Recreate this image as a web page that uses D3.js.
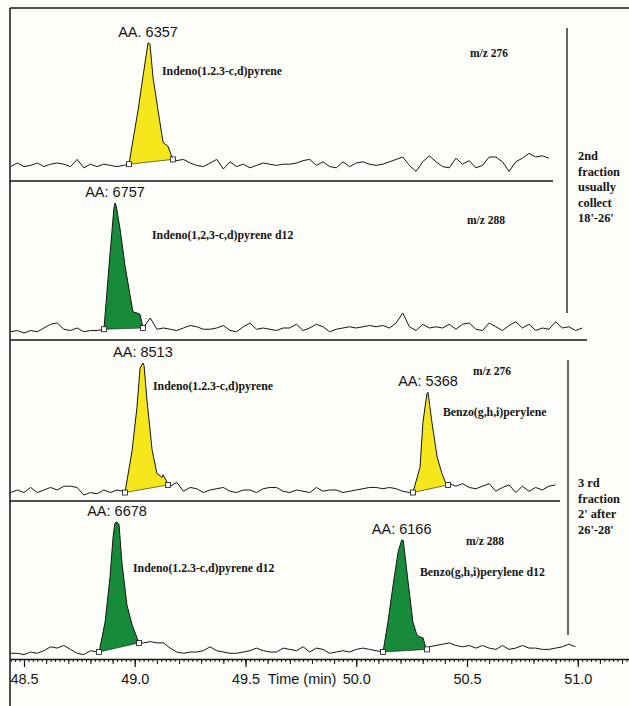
<!DOCTYPE html>
<html><head><meta charset="utf-8">
<script src="https://cdn.jsdelivr.net/npm/d3@7"></script>
<style>body{margin:0;background:#fdfdf9}svg{display:block}</style>
</head><body>
<svg id="chart" width="629" height="706"></svg>
<script>
// ---------- DATA ----------
const sampleStart = 48.44, sampleStep = 0.03;   // detector sampling clock (min)

// baseline noise per trace (relative abundance, null = under a peak)
const noiseP1 = [-3,0,-3,-2,0,-3,-1,0,-1,-3,3,-4,-1,-3,-1,-2,-3,-2,
  null,null,null,null,null,null,null,
  2,3,0,-2,-3,0,3,-5,1,-3,-1,-4,-2,0,-1,-2,-1,-1,0,2,3,-2,1,-3,-4,1,-3,0,1,-1,
  -2,-1,1,3,5,-2,-7,1,6,1,-3,-4,4,-1,2,-4,-2,5,5,1,-7,1,4,8,5,6,4];
const noiseP2 = [-3,-2,-4,-2,-3,0,3,4,-1,-2,0,-3,-2,-2,null,
  null,null,null,null,null,null,
  8,-1,0,-1,-2,0,2,1,-1,-1,0,2,-2,-3,1,4,-1,0,-1,-2,0,0,3,-2,0,3,
  1,-3,-1,0,1,0,1,2,1,2,0,4,12,1,-2,3,0,1,0,3,-1,3,4,-1,-2,4,1,-2,2,5,0,3,-2,0,-1,5,0,1,-2,0];
const noiseP3 = [-2,0,-2,2,-2,0,2,0,3,3,2,-4,-2,-3,0,-2,0,-1,
  null,null,null,null,null,null,
  3,6,-1,2,1,-2,0,1,2,-1,-2,0,0,-2,1,2,2,-1,-2,0,-1,-2,2,-1,0,0,-2,-1,0,1,2,2,1,2,1,-1,-2,
  null,null,null,null,null,
  5,3,5,2,1,3,5,-1,2,4,-2,3,-1,2,0,3,4];
const noiseP4 = [-1,-1,-2,0,-1,1,4,3,5,2,-1,-2,1,0,
  null,null,null,null,null,null,
  7,8,7,7,3,0,-1,0,0,1,4,1,0,-1,-1,0,1,3,1,0,0,3,2,1,4,0,3,2,-1,0,1,0,2,3,2,1,
  null,null,null,null,null,null,null,
  4,5,6,7,5,4,5,3,5,3,2,5,2,3,5,3,3,2,2,3,4,6,4];

// integrated peaks: [time (min), relative abundance]
const peakIndeno2nd    = [[48.974,-1],[48.992,19],[49.015,44],[49.037,72],[49.060,100],[49.069,99],[49.082,72],[49.105,44],[49.128,17],[49.150,14],[49.172,3]];
const peakIndenoD12nd  = [[48.861,-1],[48.884,50],[48.906,96],[48.911,100],[48.916,98],[48.933,80],[48.956,50],[48.979,26],[48.992,13],[49.010,12],[49.024,11],[49.037,0]];
const peakIndeno3rd    = [[48.956,-2],[48.988,31],[49.010,65],[49.024,96],[49.037,100],[49.042,98],[49.055,71],[49.078,32],[49.100,13],[49.123,10],[49.128,12],[49.146,6],[49.150,4]];
const peakBenzo3rd     = [[50.256,-2],[50.288,18],[50.301,53],[50.319,76],[50.324,77],[50.342,53],[50.365,26],[50.387,13],[50.405,5],[50.414,4]];
const peakIndenoD123rd = [[48.839,0],[48.866,23],[48.888,57],[48.902,88],[48.910,99],[48.920,100],[48.929,98],[48.942,69],[48.965,36],[48.988,21],[49.010,11],[49.019,7]];
const peakBenzoD123rd  = [[50.121,0],[50.143,23],[50.166,51],[50.189,77],[50.205,86],[50.212,86],[50.234,54],[50.256,23],[50.274,13],[50.288,11.5],[50.301,11],[50.315,3],[50.319,2]];

const areaLabels = ["AA. 6357","AA: 6757","AA: 8513","AA: 5368","AA: 6678","AA: 6166"];
const compoundNames = ["Indeno(1.2.3-c,d)pyrene","Indeno(1,2,3-c,d)pyrene d12","Indeno(1.2.3-c,d)pyrene",
  "Benzo(g,h,i)perylene","Indeno(1.2.3-c,d)pyrene d12","Benzo(g,h,i)perylene d12"];
const massLabels = ["m/z 276","m/z 288","m/z 276","m/z 288"];
const fraction2Lines = ["2nd","fraction","usually","collect","18'-26'"];
const fraction3Lines = ["3 rd","fraction","2' after","26'-28'"];
const tickValues = [48.5,49.0,49.5,50.0,50.5,51.0];
const tickLabels = ["48.5","49.0","49.5","50.0","50.5","51.0"];
const axisTitle = "Time (min)";

// ---------- LAYOUT ----------
const YELLOW = "#f6e71c", GREEN = "#188b3b", INK = "#151515";
const panels = [
  {base:163, full:43,  noise:noiseP1, peaks:[peakIndeno2nd],  color:YELLOW, areas:[0], names:[0], namePos:[[162,75]], mass:0, massPos:[470,57]},
  {base:328, full:203, noise:noiseP2, peaks:[peakIndenoD12nd], color:GREEN, areas:[1], names:[1], namePos:[[152,239]], mass:1, massPos:[467,224]},
  {base:490, full:363, noise:noiseP3, peaks:[peakIndeno3rd, peakBenzo3rd], color:YELLOW, areas:[2,3], names:[2,3], namePos:[[153,390],[443,416]], mass:2, massPos:[473,375]},
  {base:652, full:522, noise:noiseP4, peaks:[peakIndenoD123rd, peakBenzoD123rd], color:GREEN, areas:[4,5], names:[4,5], namePos:[[133,572],[420,576]], mass:3, massPos:[466,545]}
];

const svg = d3.select("#chart");
svg.append("rect").attr("width",629).attr("height",706).attr("fill","#fdfdf9");

const x = d3.scaleLinear().domain([48.4368, 51.2314]).range([10, 629]);

// frame
const frame = svg.append("g").attr("stroke", INK).attr("stroke-width", 1.5);
frame.append("line").attr("x1",10).attr("x2",629).attr("y1",8).attr("y2",8);
frame.append("line").attr("x1",10).attr("x2",10).attr("y1",8).attr("y2",706);
[[181,553],[340,587],[501,560]].forEach(([y,x2]) =>
  frame.append("line").attr("x1",10).attr("x2",x2).attr("y1",y).attr("y2",y));
frame.append("line").attr("x1",567).attr("x2",567).attr("y1",28).attr("y2",313).attr("stroke-width",1.3);
frame.append("line").attr("x1",568).attr("x2",568).attr("y1",360).attr("y2",635).attr("stroke-width",1.3);

const serif = "'Liberation Serif','Times New Roman',serif";
const sans = "'Liberation Sans',Arial,sans-serif";

panels.forEach(p => {
  const y = d3.scaleLinear().domain([0,100]).range([p.base, p.full]);
  const line = d3.line().x(d => x(d[0])).y(d => y(d[1]));
  const noisePts = p.noise.map((v,i) => v == null ? null : [sampleStart + i*sampleStep, v]).filter(Boolean);
  const trace = noisePts.concat(...p.peaks).sort((a,b) => a[0]-b[0]);
  const g = svg.append("g");
  p.peaks.forEach(pk => {
    g.append("path").attr("d", line(pk) + "Z").attr("fill", p.color).attr("stroke","none");
  });
  g.append("path").attr("d", line(trace)).attr("fill","none").attr("stroke",INK)
    .attr("stroke-width",1).attr("stroke-linejoin","miter");
  p.peaks.forEach((pk,j) => {
    // baseline of integration
    const a = pk[0], b = pk[pk.length-1];
    g.append("line").attr("x1",x(a[0])).attr("y1",y(a[1])).attr("x2",x(b[0])).attr("y2",y(b[1]))
      .attr("stroke",INK).attr("stroke-width",0.6);
    [a,b].forEach(m => g.append("rect").attr("x",x(m[0])-2.5).attr("y",y(m[1])-2.5)
      .attr("width",5).attr("height",5).attr("fill","#fff").attr("stroke",INK).attr("stroke-width",0.8));
    const apex = pk.reduce((m,d) => d[1] > m[1] ? d : m);
    g.append("text").attr("x", x(apex[0])).attr("y", y(apex[1]) - 6)
      .attr("text-anchor","middle").attr("font-family",sans).attr("font-size",14.5)
      .attr("fill",INK).text(areaLabels[p.areas[j]]);
    g.append("text").attr("x",p.namePos[j][0]).attr("y",p.namePos[j][1])
      .attr("font-family",serif).attr("font-weight","bold").attr("font-size",11.8)
      .attr("fill",INK).text(compoundNames[p.names[j]]);
  });
  g.append("text").attr("x",p.massPos[0]).attr("y",p.massPos[1])
    .attr("font-family",serif).attr("font-weight","bold").attr("font-size",11.5)
    .attr("fill",INK).text(massLabels[p.mass]);
});

// fraction notes
[[fraction2Lines,160],[fraction3Lines,487]].forEach(([lines,y0]) => {
  const t = svg.append("text").attr("font-family",serif).attr("font-weight","bold")
    .attr("font-size",12.4).attr("fill",INK);
  lines.forEach((s,i) => t.append("tspan").attr("x",578).attr("y",y0 + i*15.5).text(s));
});

// time axis
const axisY = 659;
const minor = d3.range(2422, 2562).map(i => i/50);
const medium = d3.range(485, 513).map(i => i/10);
svg.append("g").attr("transform",`translate(0,${axisY})`)
  .call(d3.axisBottom(x).tickValues(minor).tickSize(3).tickSizeOuter(0).tickFormat(""))
  .call(g => g.selectAll("line,path").attr("stroke",INK));
svg.append("g").attr("transform",`translate(0,${axisY})`)
  .call(d3.axisBottom(x).tickValues(medium).tickSize(5).tickSizeOuter(0).tickFormat(""))
  .call(g => g.select(".domain").remove())
  .call(g => g.selectAll("line").attr("stroke",INK));
const ax = svg.append("g").attr("transform",`translate(0,${axisY})`)
  .call(d3.axisBottom(x).tickValues(tickValues).tickSize(8).tickSizeOuter(0)
        .tickFormat((d,i) => tickLabels[i]))
  .call(g => g.select(".domain").attr("stroke",INK).attr("stroke-width",1.5));
ax.selectAll("line").attr("stroke",INK).attr("stroke-width",1.2);
ax.selectAll("text").attr("y",25).attr("dy",0).attr("font-family",sans)
  .attr("font-size",14.5).attr("fill",INK);
svg.append("text").attr("x",302).attr("y",axisY+25).attr("text-anchor","middle")
  .attr("font-family",sans).attr("font-size",14.5).attr("fill",INK).text(axisTitle);
</script>
</body></html>
